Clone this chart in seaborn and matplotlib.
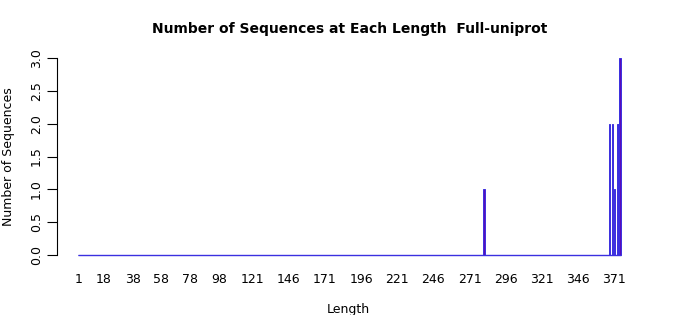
import matplotlib
matplotlib.use("Agg")
import matplotlib.pyplot as plt
import seaborn as sns
import numpy as np
import pandas as pd

# Data
lengths = list(range(1, 376))
nonzero_lengths = [281, 368, 370, 371, 373, 374, 375]
nonzero_counts = [1, 2, 2, 1, 2, 2, 3]
tick_labels = ['1', '18', '38', '58', '78', '98', '121', '146', '171', '196',
               '221', '246', '271', '296', '321', '346', '371']
y_ticks = [0.0, 0.5, 1.0, 1.5, 2.0, 2.5, 3.0]

count_map = dict(zip(nonzero_lengths, nonzero_counts))
counts = [count_map.get(l, 0) for l in lengths]
df = pd.DataFrame({"Length": [str(l) for l in lengths], "Count": counts})

sns.set_style("white")
plt.rcParams['font.family'] = ['DejaVu Sans']
plt.rcParams['text.color'] = 'black'
plt.rcParams['axes.labelcolor'] = 'black'
plt.rcParams['xtick.color'] = 'black'
plt.rcParams['ytick.color'] = 'black'

fig = plt.figure(figsize=(7, 3.15), dpi=100)
ax = fig.add_axes([57/700, (315-255)/315, (640-57)/700, 197/315])

bar_w = 0.83
edge = "#3b30e0"
sns.barplot(data=df, x="Length", y="Count", order=df["Length"], color="#5a0cb8",
            saturation=1, width=bar_w, edgecolor=edge, linewidth=0.7, ax=ax)
for p in ax.patches:
    p.set_clip_on(False)
# zero-height bars show as a continuous baseline
ax.hlines(0, -bar_w / 2, len(lengths) - 1 + bar_w / 2, color=edge, linewidth=1.0,
          clip_on=False, zorder=3)

px_per_bar = 541 / 374
ax.set_xlim(-22 / px_per_bar, 374 + 20 / px_per_bar)
ax.set_ylim(0, 3)

pos = [lengths.index(int(t)) for t in tick_labels]
ax.set_xticks(pos)
ax.set_xticklabels(tick_labels, fontsize=9)
ax.tick_params(axis='x', length=0, pad=13)

ax.set_yticks(y_ticks)
ax.set_yticklabels([f"{v:.1f}" for v in y_ticks], rotation=90, va='center', fontsize=9)
ax.tick_params(axis='y', length=7, width=0.8, pad=3, left=True, direction='out', colors='black')

for s in ['top', 'right', 'bottom']:
    ax.spines[s].set_visible(False)
ax.spines['left'].set_bounds(0, 3)
ax.spines['left'].set_linewidth(0.8)
ax.spines['left'].set_color('black')

ax.set_xlabel("Length", fontsize=9, labelpad=12)
ax.set_ylabel("Number of Sequences", fontsize=9, labelpad=11)
fig.text(350/700, 1 - 29/315, "Number of Sequences at Each Length  Full-uniprot",
         ha='center', va='center', fontsize=10, fontweight='bold')

fig.savefig("out.png", dpi=100)
